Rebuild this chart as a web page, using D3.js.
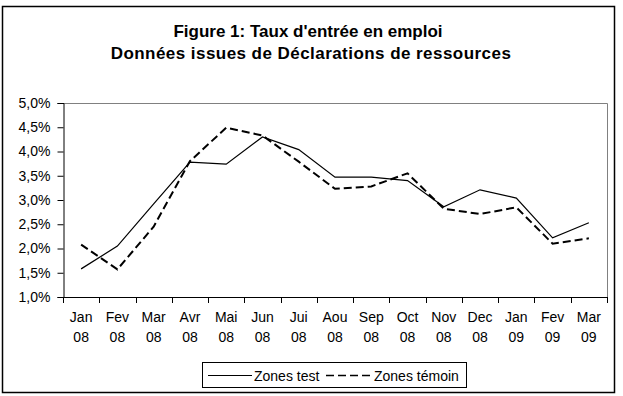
<!DOCTYPE html>
<html>
<head>
<meta charset="utf-8">
<script src="https://cdn.jsdelivr.net/npm/d3@7.9.0/dist/d3.min.js"></script>
<style>
  body { margin: 0; background: #fff; }
  svg { display: block; font-family: Arial, "Liberation Sans", sans-serif; }
</style>
</head>
<body>
<svg id="chart" width="623" height="396"></svg>
<script>
// month categories (two-line labels)
const months = ['Jan', 'Fev', 'Mar', 'Avr', 'Mai', 'Jun', 'Jui', 'Aou', 'Sep', 'Oct', 'Nov', 'Dec', 'Jan', 'Fev', 'Mar'];
const years = ['08', '08', '08', '08', '08', '08', '08', '08', '08', '08', '08', '08', '09', '09', '09'];

// taux d'entrée en emploi (%)
const zonesTest = [1.58, 2.05, 2.92, 3.78, 3.74, 4.30, 4.04, 3.47, 3.47, 3.40, 2.86, 3.21, 3.04, 2.22, 2.53];
const zonesTemoin = [2.08, 1.57, 2.45, 3.80, 4.49, 4.33, 3.79, 3.23, 3.28, 3.55, 2.82, 2.71, 2.85, 2.10, 2.21];

const yTicks = [1.0, 1.5, 2.0, 2.5, 3.0, 3.5, 4.0, 4.5, 5.0];

const svg = d3.select('#chart');

// outer frame
svg.append('rect')
  .attr('x', 2.5).attr('y', 6.5)
  .attr('width', 612).attr('height', 386)
  .attr('fill', 'none').attr('stroke', '#000').attr('stroke-width', 1.5);

// title
const title = svg.append('text')
  .attr('text-anchor', 'middle')
  .attr('font-weight', 'bold')
  .attr('font-size', 17)
  .attr('fill', '#000');
title.append('tspan').attr('x', 308).attr('y', 37).text("Figure 1: Taux d'entrée en emploi");
title.append('tspan').attr('x', 311).attr('y', 59)
  .attr('letter-spacing', 0.45)
  .text('Données issues de Déclarations de ressources');

// scales
const plotLeft = 63, plotRight = 607, plotTop = 103, plotBottom = 297;
const idx = d3.range(months.length);
const x = d3.scaleBand().domain(idx).range([plotLeft, plotRight]).padding(0);
const y = d3.scaleLinear().domain([1, 5]).range([plotBottom, plotTop]);
const cx = i => x(i) + x.bandwidth() / 2;

// plot frame (top + right grey)
svg.append('path')
  .attr('d', `M${plotLeft},${plotTop + 0.5}H${plotRight + 0.5}V${plotBottom}`)
  .attr('fill', 'none').attr('stroke', '#808080').attr('stroke-width', 1);

// y axis
const yAxis = d3.axisLeft(y)
  .tickValues(yTicks)
  .tickSize(6)
  .tickPadding(7)
  .tickFormat(d => d3.format('.1f')(d).replace('.', ',') + '%');
const gy = svg.append('g')
  .attr('transform', `translate(${plotLeft + 0.5},0)`)
  .call(yAxis);
gy.select('.domain').attr('stroke', '#000');
gy.selectAll('.tick line').attr('stroke', '#000');
gy.selectAll('.tick text').attr('font-size', 14).attr('font-family', null).attr('fill', '#000');

// x axis: ticks on category boundaries
const bounds = idx.map(i => x(i)).concat([plotRight]);
const gx = svg.append('g');
gx.append('line')
  .attr('x1', plotLeft).attr('x2', plotRight + 0.5)
  .attr('y1', plotBottom + 0.5).attr('y2', plotBottom + 0.5)
  .attr('stroke', '#000');
gx.selectAll('line.tk')
  .data(bounds)
  .join('line')
  .attr('class', 'tk')
  .attr('x1', d => Math.round(d) + 0.5).attr('x2', d => Math.round(d) + 0.5)
  .attr('y1', plotBottom).attr('y2', plotBottom + 6)
  .attr('stroke', '#000');

const labels = gx.selectAll('text.lbl')
  .data(idx)
  .join('text')
  .attr('class', 'lbl')
  .attr('text-anchor', 'middle')
  .attr('font-size', 14)
  .attr('fill', '#000');
labels.append('tspan').attr('x', cx).attr('y', 322).text(i => months[i]);
labels.append('tspan').attr('x', cx).attr('y', 342).text(i => years[i]);

// lines
const line = d3.line().x((d, i) => cx(i)).y(d => y(d));

svg.append('path')
  .datum(zonesTest)
  .attr('d', line)
  .attr('fill', 'none')
  .attr('stroke', '#000')
  .attr('stroke-width', 1.2);

svg.append('path')
  .datum(zonesTemoin)
  .attr('d', line)
  .attr('fill', 'none')
  .attr('stroke', '#000')
  .attr('stroke-width', 2)
  .attr('stroke-dasharray', '8,4');

// legend
const lg = svg.append('g');
lg.append('rect')
  .attr('x', 202.5).attr('y', 362.5)
  .attr('width', 264).attr('height', 25)
  .attr('fill', '#fff').attr('stroke', '#000');
lg.append('line')
  .attr('x1', 208).attr('x2', 252).attr('y1', 375.5).attr('y2', 375.5)
  .attr('stroke', '#000').attr('stroke-width', 1.2);
lg.append('text')
  .attr('x', 254).attr('y', 380.5)
  .attr('font-size', 14).attr('fill', '#000')
  .text('Zones test');
lg.append('line')
  .attr('x1', 326).attr('x2', 372).attr('y1', 375.5).attr('y2', 375.5)
  .attr('stroke', '#000').attr('stroke-width', 1.5)
  .attr('stroke-dasharray', '8,4');
lg.append('text')
  .attr('x', 374).attr('y', 380.5)
  .attr('font-size', 14).attr('fill', '#000')
  .text('Zones témoin');
</script>
</body>
</html>
